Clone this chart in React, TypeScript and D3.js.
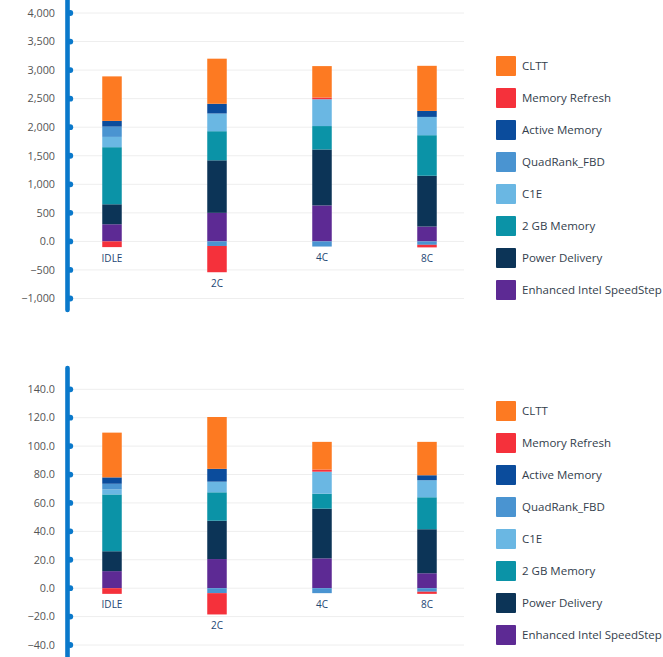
import React, { useMemo } from "react";
import * as d3 from "d3";

// categories and stacked series, bottom of the stack first
const categories = ["IDLE", "2C", "4C", "8C"];
const seriesNames = [
  "Enhanced Intel SpeedStep",
  "Power Delivery",
  "2 GB Memory",
  "C1E",
  "QuadRank_FBD",
  "Active Memory",
  "Memory Refresh",
  "CLTT",
];
const seriesColors = [
  "#5d2a94",
  "#0c3457",
  "#0b93a7",
  "#6ab7e3",
  "#4a94d1",
  "#0b4c9c",
  "#f5313b",
  "#fd7a22",
];

// upper panel values, one array per series (IDLE, 2C, 4C, 8C)
const topSpeedStep = [300, 500, 630, 260];
const topPowerDelivery = [350, 920, 980, 890];
const topMemory2GB = [1000, 510, 410, 710];
const topC1E = [180, 310, 470, 320];
const topQuadRank = [180, -80, -90, -60];
const topActiveMemory = [100, 170, 0, 105];
const topMemoryRefresh = [-100, -460, 30, -45];
const topCLTT = [780, 790, 550, 790];
const topTicks = [-1000, -500, 0, 500, 1000, 1500, 2000, 2500, 3000, 3500, 4000];

// lower panel values
const lowSpeedStep = [12, 20.5, 21, 10.5];
const lowPowerDelivery = [14, 27, 35, 31];
const lowMemory2GB = [40, 20, 10.5, 22.5];
const lowC1E = [3.5, 7.5, 15.5, 12];
const lowQuadRank = [4, -3.5, -3.5, -2.5];
const lowActiveMemory = [4.5, 9, 0, 3.5];
const lowMemoryRefresh = [-4, -15, 1.5, -1.5];
const lowCLTT = [31.5, 36.5, 19.5, 23.5];
const lowTicks = [-40, -20, 0, 20, 40, 60, 80, 100, 120, 140];

const topSeries = [topSpeedStep, topPowerDelivery, topMemory2GB, topC1E, topQuadRank, topActiveMemory, topMemoryRefresh, topCLTT];
const lowSeries = [lowSpeedStep, lowPowerDelivery, lowMemory2GB, lowC1E, lowQuadRank, lowActiveMemory, lowMemoryRefresh, lowCLTT];

const FONT = "'Open Sans', 'Noto Sans', sans-serif";
const AXIS_BLUE = "#0a79cb";
const AXIS_X = 67.5;
const GRID_END = 464;
const BAR_W = 19.5;

type PanelProps = {
  values: number[][];
  ticks: number[];
  domain: [number, number];
  range: [number, number];
  axisSpan: [number, number];
  fmt: (v: number) => string;
  legendTop: number;
};

function Panel({ values, ticks, domain, range, axisSpan, fmt, legendTop }: PanelProps) {
  const x = useMemo(
    () => d3.scalePoint<string>().domain(categories).range([59.5, 479.5]).padding(0.5),
    []
  );
  const y = useMemo(() => d3.scaleLinear().domain(domain).range(range), [domain, range]);

  const table = useMemo(
    () =>
      categories.map((c, i) => {
        const row: Record<string, any> = { category: c };
        seriesNames.forEach((s, k) => (row[s] = values[k][i]));
        return row;
      }),
    [values]
  );

  const stacked = useMemo(
    () => d3.stack<any>().keys(seriesNames).offset(d3.stackOffsetDiverging)(table),
    [table]
  );

  // lowest point of each bar, used to hang the category label under it
  const bottoms = categories.map((_, i) =>
    Math.min(0, d3.min(stacked, (s) => s[i][0]) ?? 0)
  );

  return (
    <g>
      {ticks.map((t) => (
        <line key={`g${t}`} x1={AXIS_X} x2={GRID_END} y1={y(t)} y2={y(t)} stroke="#eeeeee" strokeWidth={1} />
      ))}

      {stacked.map((s, k) => (
        <g key={seriesNames[k]} fill={seriesColors[k]}>
          {s.map((d, i) => {
            const y0 = y(Math.max(d[0], d[1]));
            const y1 = y(Math.min(d[0], d[1]));
            if (y1 - y0 < 0.01) return null;
            return (
              <rect
                key={categories[i]}
                x={(x(categories[i]) as number) - BAR_W / 2}
                y={y0}
                width={BAR_W}
                height={y1 - y0}
              />
            );
          })}
        </g>
      ))}

      {categories.map((c, i) => (
        <text
          key={c}
          x={x(c)}
          y={y(bottoms[i]) + 11}
          dy="0.35em"
          textAnchor="middle"
          fontSize={10}
          fill="#234673"
          fontFamily={FONT}
        >
          {c}
        </text>
      ))}

      <line
        x1={AXIS_X}
        x2={AXIS_X}
        y1={axisSpan[0]}
        y2={axisSpan[1]}
        stroke={AXIS_BLUE}
        strokeWidth={4.6}
        strokeLinecap="round"
      />
      {ticks.map((t) => (
        <g key={`t${t}`}>
          <circle cx={AXIS_X + 2.8} cy={y(t)} r={2.9} fill={AXIS_BLUE} />
          <text
            x={55}
            y={y(t)}
            dy="0.35em"
            textAnchor="end"
            fontSize={10.8}
            fill="#555"
            fontFamily={FONT}
          >
            {fmt(t)}
          </text>
        </g>
      ))}

      {seriesNames
        .map((name, k) => ({ name, color: seriesColors[k] }))
        .reverse()
        .map((item, j) => (
          <g key={item.name} transform={`translate(496,${legendTop + j * 32})`}>
            <rect x={0} y={-10} width={20} height={20} rx={1} fill={item.color} />
            <text x={26} y={0} dy="0.35em" fontSize={11.5} fill="#333e4c" fontFamily={FONT}>
              {item.name}
            </text>
          </g>
        ))}
    </g>
  );
}

const fmtTop = (v: number) => (v === 0 ? "0.0" : d3.format(",")(v));
const fmtLow = d3.format(".1f");

export default function App() {
  return (
    <svg
      width={663}
      height={657}
      style={{ position: "absolute", left: 0, top: 0, display: "block", background: "#fff" }}
    >
      <Panel
        values={topSeries}
        ticks={topTicks}
        domain={[-1000, 4000]}
        range={[298.5, 13]}
        axisSpan={[-10, 310]}
        fmt={fmtTop}
        legendTop={66}
      />
      <Panel
        values={lowSeries}
        ticks={lowTicks}
        domain={[-40, 140]}
        range={[645, 389.3]}
        axisSpan={[368, 670]}
        fmt={fmtLow}
        legendTop={411}
      />
    </svg>
  );
}
